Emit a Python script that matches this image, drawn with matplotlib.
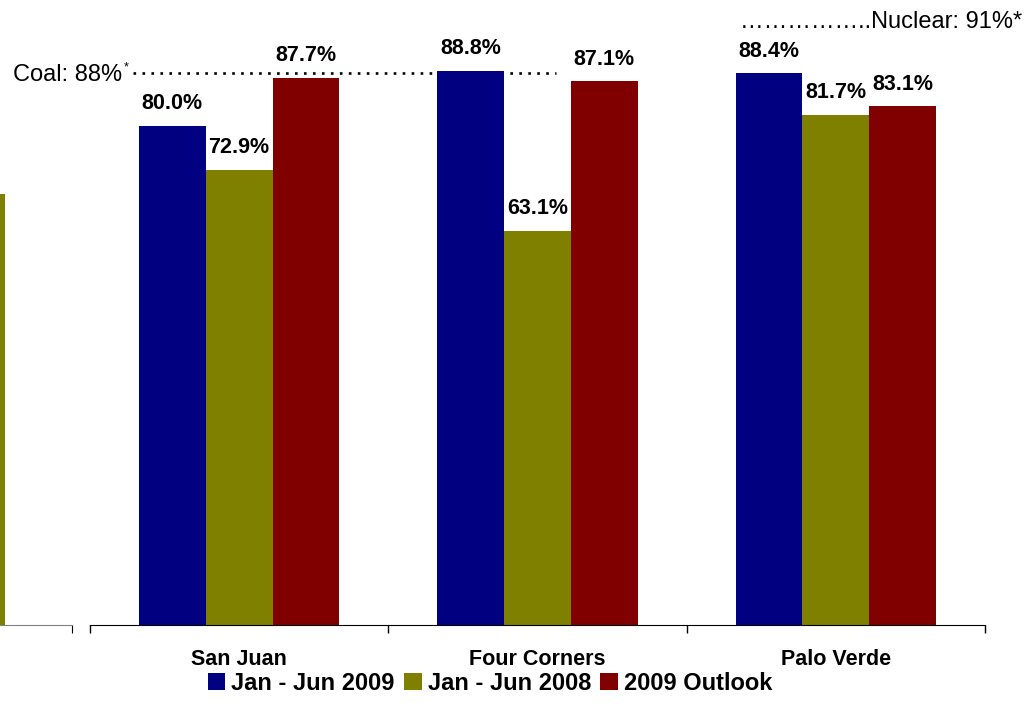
import matplotlib
matplotlib.use("Agg")
import matplotlib.pyplot as plt
import numpy as np
from matplotlib.patches import Patch

plt.rcParams['font.family'] = ['Liberation Sans', 'DejaVu Sans']

categories = ["San Juan", "Four Corners", "Palo Verde"]
series_names = ["Jan - Jun 2009", "Jan - Jun 2008", "2009 Outlook"]
jan_jun_2009 = [80.0, 88.8, 88.4]
jan_jun_2008 = [72.9, 63.1, 81.7]
outlook_2009 = [87.7, 87.1, 83.1]
prev_fragment = [69.1]  # partially visible bar on the left edge
colors = ["#000080", "#808000", "#800000"]

W, H = 1025, 710
fig = plt.figure(figsize=(W / 100, H / 100), dpi=100)

# main axes
ax = fig.add_axes([90 / W, (H - 625) / H, (985 - 90) / W, 624 / H])
x = np.arange(len(categories))
bw = 0.224
offsets = [-bw, 0, bw]
for vals, off, c in zip([jan_jun_2009, jan_jun_2008, outlook_2009], offsets, colors):
    bars = ax.bar(x + off, vals, width=bw, color=c, zorder=2)
    for b, v in zip(bars, vals):
        ax.text(b.get_x() + b.get_width() / 2, v + 1.9, f"{v:.1f}%", ha="center", va="bottom",
                fontsize=15.5, fontweight="bold", zorder=3)

ax.set_xlim(-0.5, 2.5)
ax.set_ylim(0, 100)
for s in ["top", "right", "left"]:
    ax.spines[s].set_visible(False)
ax.spines["bottom"].set_color("black")
ax.set_yticks([])
ax.set_xticks(x)
ax.set_xticklabels(categories, fontsize=15.5, fontweight="bold")
ax.tick_params(axis="x", which="major", length=0, pad=17)
ax.set_xticks([-0.5, 0.5, 1.5, 2.5], minor=True)
ax.tick_params(axis="x", which="minor", length=6, width=1, color="black", direction="out")

# coal / nuclear reference annotations
coal_level = 88.45
fig.text(13 / W, (H - 81) / H, "Coal: 88%", fontsize=17, ha="left", va="baseline")
fig.text(124 / W, (H - 70) / H, "*", fontsize=9, ha="left", va="baseline")
ax.plot([-0.5 + 43 / 298.3, -0.5 + 466 / 298.3], [coal_level, coal_level], color="black",
        linestyle=(0, (1, 2.4)), linewidth=1.9, zorder=1, solid_capstyle="butt", dash_capstyle="butt")
fig.text(1022 / W, (H - 28) / H, "……………..Nuclear: 91%*", fontsize=17, ha="right", va="baseline")

# partial fragment of a neighbouring chart at the left edge
axl = fig.add_axes([0, (H - 625) / H, 72 / W, 624 / H])
axl.bar([2], prev_fragment, width=bw, color=colors[1])
axl.set_xlim(2.096, 2.337)
axl.set_ylim(0, 100)
for s in ["top", "right", "left"]:
    axl.spines[s].set_visible(False)
axl.spines["bottom"].set_color("#808080")
axl.set_yticks([])
axl.set_xticks([2.337])
axl.set_xticklabels([""])
axl.tick_params(axis="x", length=6, color="black")

handles = [Patch(facecolor=c, edgecolor="none") for c in colors]
fig.legend(handles, series_names, loc="center", bbox_to_anchor=(490 / W, (H - 683) / H),
           ncol=3, frameon=False, prop={"size": 17, "weight": "bold"},
           handlelength=0.75, handleheight=0.75, handletextpad=0.25, columnspacing=0.4,
           borderpad=0, borderaxespad=0)

fig.savefig("out.png", dpi=100)
